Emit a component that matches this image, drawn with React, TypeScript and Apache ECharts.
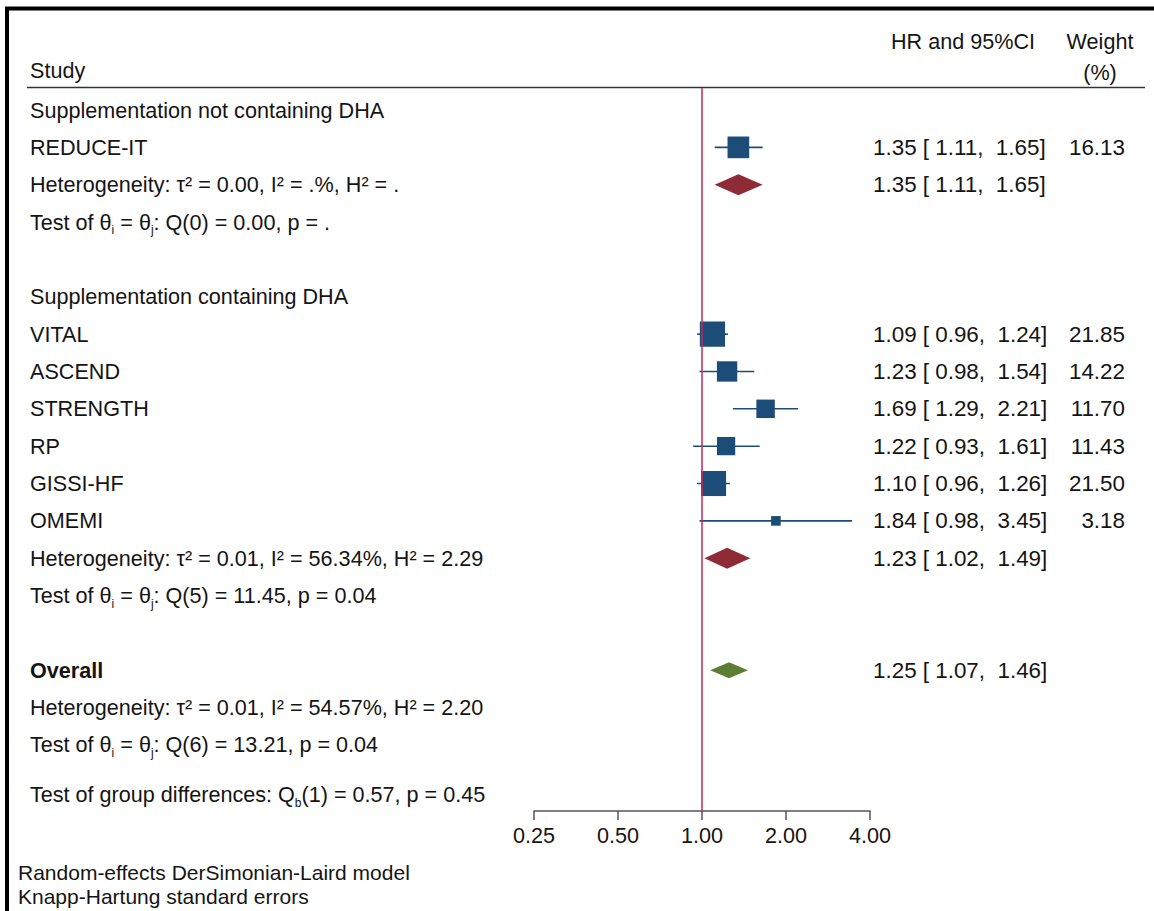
import React, { useEffect, useRef } from "react";
import * as echarts from "echarts";

const studyNames = ["REDUCE-IT", "VITAL", "ASCEND", "STRENGTH", "RP", "GISSI-HF", "OMEMI"];
const studyHR = [1.35, 1.09, 1.23, 1.69, 1.22, 1.1, 1.84];
const studyLow = [1.11, 0.96, 0.98, 1.29, 0.93, 0.96, 0.98];
const studyHigh = [1.65, 1.24, 1.54, 2.21, 1.61, 1.26, 3.45];
const studyWeight = [16.13, 21.85, 14.22, 11.7, 11.43, 21.5, 3.18];
const studyGroup = [0, 1, 1, 1, 1, 1, 1];

const groupNames = ["Supplementation not containing DHA", "Supplementation containing DHA"];
const groupHR = [1.35, 1.23];
const groupLow = [1.11, 1.02];
const groupHigh = [1.65, 1.49];
const groupHet = ["τ² = 0.00, I² = .%, H² = .", "τ² = 0.01, I² = 56.34%, H² = 2.29"];
const groupQ = ["Q(0) = 0.00, p = .", "Q(5) = 11.45, p = 0.04"];

const overallHR = 1.25;
const overallLow = 1.07;
const overallHigh = 1.46;
const overallHet = "τ² = 0.01, I² = 54.57%, H² = 2.20";
const overallQ = "Q(6) = 13.21, p = 0.04";
const groupDiffQ = "(1) = 0.57, p = 0.45";

const xTicks = [0.25, 0.5, 1, 2, 4];
const notes = ["Random-effects DerSimonian-Laird model", "Knapp-Hartung standard errors"];

const FONT = "'Liberation Sans', Arial, Helvetica, sans-serif";
const FS = 21.6;
const FS_NUM = 22.4;
const TXT = "#141414";
const BLUE = "#1c4d78";
const RED_D = "#8f2b36";
const GREEN_D = "#5b7d34";
const REF = "#c9285a";

type Row = {
  row: number;
  kind: "header" | "study" | "het" | "test" | "overall" | "diff";
  label: string;
  est?: number;
  lo?: number;
  hi?: number;
  weight?: number;
  diamond?: "group" | "overall";
};

function buildRows(): Row[] {
  const rows: Row[] = [];
  let r = 0;
  groupNames.forEach((g, gi) => {
    rows.push({ row: r++, kind: "header", label: g });
    studyNames.forEach((s, si) => {
      if (studyGroup[si] === gi) {
        rows.push({
          row: r++, kind: "study", label: s,
          est: studyHR[si], lo: studyLow[si], hi: studyHigh[si], weight: studyWeight[si],
        });
      }
    });
    rows.push({
      row: r++, kind: "het", label: "Heterogeneity: " + groupHet[gi],
      est: groupHR[gi], lo: groupLow[gi], hi: groupHigh[gi], diamond: "group",
    });
    rows.push({ row: r++, kind: "test", label: groupQ[gi] });
    r++;
  });
  rows.push({ row: r++, kind: "overall", label: "Overall", est: overallHR, lo: overallLow, hi: overallHigh, diamond: "overall" });
  rows.push({ row: r++, kind: "het", label: "Heterogeneity: " + overallHet });
  rows.push({ row: r++, kind: "test", label: overallQ });
  rows.push({ row: r + 0.33, kind: "diff", label: groupDiffQ });
  return rows;
}

const rows = buildRows();

const fmt = (v: number) => v.toFixed(2);
const pad = (v: number) => (v < 10 ? " " : "") + fmt(v);

export default function App() {
  const ref = useRef<HTMLDivElement>(null);
  useEffect(() => {
    if (!ref.current) return;
    const chart = echarts.init(ref.current, undefined, { renderer: "svg" });
    const baseText = { fontFamily: FONT, fontSize: FS, fill: TXT };
    const numText = { fontFamily: FONT, fontSize: FS_NUM, fill: TXT };
    const richStyles = {
      n: { fontFamily: FONT, fontSize: FS, fill: TXT, lineHeight: 28, verticalAlign: "middle" },
      s: { fontFamily: FONT, fontSize: 12, fill: TXT, lineHeight: 11, verticalAlign: "bottom" },
    };
    const option: any = {
      animation: false,
      backgroundColor: "#ffffff",
      grid: { left: 534, right: 284, top: 88, bottom: 100 },
      xAxis: {
        type: "log",
        logBase: 2,
        min: xTicks[0],
        max: xTicks[xTicks.length - 1],
        splitNumber: xTicks.length - 1,
        axisLine: { show: true, onZero: false, lineStyle: { color: "#555", width: 1.5 } },
        axisTick: { show: true, length: 9, lineStyle: { color: "#555", width: 1.5 } },
        splitLine: { show: false },
        axisLabel: {
          fontSize: FS, fontFamily: FONT, color: TXT, margin: 13,
          formatter: (v: number) => v.toFixed(2),
        },
      },
      yAxis: {
        type: "value",
        inverse: true,
        min: -0.589,
        max: 18.767,
        show: false,
      },
      graphic: [
        { type: "polyline", shape: { points: [[7, 911], [7, 8.5], [1154, 8.5]] }, style: { stroke: "#000", lineWidth: 4, fill: "none" } },
        { type: "line", shape: { x1: 27, y1: 87.5, x2: 1145, y2: 87.5 }, style: { stroke: "#333", lineWidth: 1.5 } },
        { type: "text", x: 30, y: 70, style: { ...baseText, text: "Study", verticalAlign: "middle" } },
        { type: "text", x: 891, y: 41, style: { ...baseText, text: "HR and 95%CI", verticalAlign: "middle" } },
        { type: "text", x: 1100, y: 41, style: { ...baseText, text: "Weight", align: "center", verticalAlign: "middle" } },
        { type: "text", x: 1100, y: 72, style: { ...baseText, text: "(%)", align: "center", verticalAlign: "middle" } },
        { type: "text", x: 18, y: 872, style: { ...baseText, fontSize: 21, text: notes[0], verticalAlign: "middle" } },
        { type: "text", x: 18, y: 896, style: { ...baseText, fontSize: 21, text: notes[1], verticalAlign: "middle" } },
      ],
      series: [
        {
          type: "custom",
          clip: false,
          data: rows.map((r) => [1, r.row]),
          encode: { x: 0, y: 1 },
          renderItem: (params: any, api: any) => {
            const d = rows[params.dataIndex];
            const y = api.coord([1, d.row])[1];
            const children: any[] = [];
            if (d.kind === "test") {
              children.push({
                type: "text", x: 30, y,
                style: { text: `{n|Test of θ}{s|i}{n| = θ}{s|j}{n|: ${d.label}}`, rich: richStyles, verticalAlign: "middle", ...baseText },
              });
            } else if (d.kind === "diff") {
              children.push({
                type: "text", x: 30, y,
                style: { text: `{n|Test of group differences: Q}{s|b}{n|${d.label}}`, rich: richStyles, verticalAlign: "middle", ...baseText },
              });
            } else {
              children.push({
                type: "text", x: 30, y,
                style: { ...baseText, text: d.label, verticalAlign: "middle", fontWeight: d.kind === "overall" ? "bold" : "normal" },
              });
            }
            if (d.est !== undefined && d.lo !== undefined && d.hi !== undefined) {
              const xe = api.coord([d.est, d.row])[0];
              const xl = api.coord([d.lo, d.row])[0];
              const xh = api.coord([d.hi, d.row])[0];
              if (d.kind === "study") {
                const side = 5.4 * Math.sqrt(d.weight || 0);
                children.push({ type: "line", shape: { x1: xl, y1: y, x2: xh, y2: y }, style: { stroke: BLUE, lineWidth: 1.6 } });
                children.push({ type: "rect", shape: { x: xe - side / 2, y: y - side / 2, width: side, height: side }, style: { fill: BLUE } });
              } else {
                const h = d.diamond === "overall" ? 8 : 10.5;
                children.push({
                  type: "polygon",
                  shape: { points: [[xl, y], [xe, y - h], [xh, y], [xe, y + h]] },
                  style: { fill: d.diamond === "overall" ? GREEN_D : RED_D },
                });
              }
              children.push({
                type: "text", x: 873, y,
                style: { ...numText, text: `${fmt(d.est)} [${pad(d.lo)}, ${pad(d.hi)}]`, verticalAlign: "middle" },
              });
              if (d.weight !== undefined) {
                children.push({
                  type: "text", x: 1125, y,
                  style: { ...numText, text: fmt(d.weight), align: "right", verticalAlign: "middle" },
                });
              }
            }
            return { type: "group", children };
          },
          markLine: {
            silent: true,
            symbol: ["none", "none"],
            label: { show: false },
            lineStyle: { color: REF, width: 1.5, type: "solid" },
            data: [{ xAxis: 1 }],
          },
          z: 3,
        },
      ],
    };
    chart.setOption(option);
    return () => chart.dispose();
  }, []);
  return (
    <div
      ref={ref}
      style={{ position: "fixed", left: 0, top: 0, width: 1154, height: 911, background: "#fff" }}
    />
  );
}
